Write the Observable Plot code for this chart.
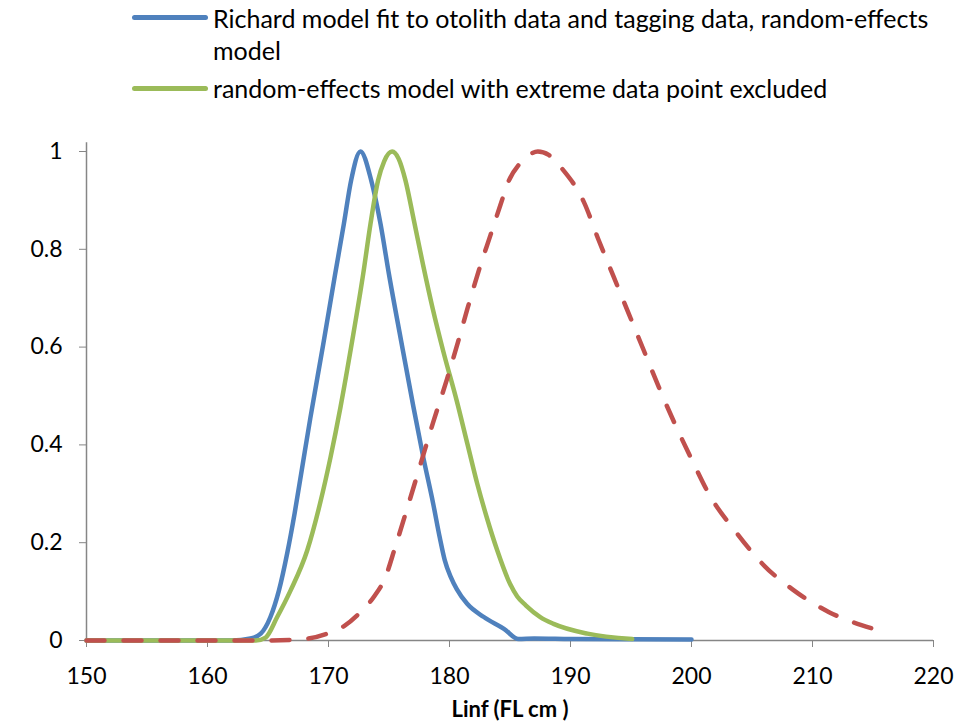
<!DOCTYPE html>
<html>
<head>
<meta charset="utf-8">
<script src="https://cdn.jsdelivr.net/npm/d3@7"></script>
<script src="https://cdn.jsdelivr.net/npm/@observablehq/plot@0.6"></script>
<style>
  body { margin: 0; background: #fff; }
  #wrap { position: relative; width: 971px; height: 725px; font-family: Lato, "Open Sans", sans-serif; color: #000; }
  #legend { position: relative; width: 971px; height: 110px; }
  .sw { position: absolute; left: 132px; width: 76px; height: 5px; border-radius: 3px; }
  .lt { position: absolute; left: 213px; font-size: 25px; line-height: 32px; white-space: nowrap; }
  #plot svg { display: block; }
</style>
</head>
<body>
<div id="wrap">
  <div id="legend"></div>
  <div id="plot"></div>
</div>
<script>
// ---- data ----
const seriesNames = [
  "Richard model fit to otolith data and tagging data, random-effects\nmodel",
  "random-effects model with extreme data point excluded"
];
const seriesColors = ["#4F81BD", "#9BBB59", "#C0504D"];

const blueX = [150, 160, 162, 163.55, 164.4, 165.2, 165.9, 166.6, 167.2, 167.8, 168.5, 169.56, 170.52, 171.27, 171.87, 172.64, 173.53, 174.3, 174.99, 176.0, 177.0, 177.83, 178.65, 179.2, 179.6, 180.1, 180.6, 181.46, 182.84, 184.5, 185.7, 187, 190, 200];
const blueY = [0, 0, 0, 0.004, 0.014, 0.048, 0.102, 0.18, 0.26, 0.35, 0.455, 0.605, 0.745, 0.852, 0.941, 1.0, 0.941, 0.852, 0.75, 0.613, 0.48, 0.375, 0.28, 0.21, 0.165, 0.13, 0.105, 0.075, 0.048, 0.024, 0.003, 0.004, 0.003, 0.002];

const greenX = [150, 164.0, 164.8, 165.76, 166.86, 168.24, 169.3, 170.17, 170.99, 171.96, 172.87, 173.47, 174.1, 174.6, 175.26, 175.8, 176.36, 177.05, 177.8, 178.6, 179.5, 180.6, 181.5, 182.3, 183.1, 183.95, 185.0, 185.6, 186.3, 187.5, 188.6, 191.4, 195.1];
const greenY = [0, 0, 0.006, 0.048, 0.102, 0.184, 0.28, 0.375, 0.477, 0.613, 0.75, 0.852, 0.941, 0.98, 1.0, 0.985, 0.941, 0.86, 0.77, 0.68, 0.59, 0.49, 0.4, 0.32, 0.25, 0.184, 0.116, 0.09, 0.072, 0.048, 0.034, 0.014, 0.003];

const redX = [150, 165, 168, 169.89, 171.26, 172.64, 173.74, 174.71, 175.5, 176.5, 177.6, 178.7, 179.8, 180.7, 181.5, 182.4, 183.4, 184.2, 184.9, 185.8, 186.7, 187.3, 188.2, 189.3, 191.1, 192.34, 193.58, 194.82, 196.06, 197.3, 198.68, 200.06, 201.43, 203.7, 205.93, 208.43, 211.37, 215];
const redY = [0, 0, 0.003, 0.014, 0.029, 0.058, 0.089, 0.13, 0.19, 0.27, 0.36, 0.45, 0.535, 0.61, 0.68, 0.755, 0.83, 0.89, 0.94, 0.975, 0.995, 1.0, 0.993, 0.965, 0.897, 0.818, 0.743, 0.668, 0.593, 0.518, 0.44, 0.368, 0.3, 0.221, 0.155, 0.103, 0.058, 0.024];

const xTicks = [150, 160, 170, 180, 190, 200, 210, 220];
const yTicks = [0, 0.2, 0.4, 0.6, 0.8, 1];
const xLabel = "Linf (FL cm )";

// ---- build tables ----
const toRows = (xs, ys) => xs.map((x, i) => ({x, y: ys[i]}));
const blue = toRows(blueX, blueY);
const green = toRows(greenX, greenY);
const red = toRows(redX, redY);

// ---- legend ----
const legend = document.getElementById("legend");
const swTops = [15, 86];
const txtTops = [2, 72];
seriesNames.forEach((name, i) => {
  const sw = document.createElement("div");
  sw.className = "sw";
  sw.style.top = swTops[i] + "px";
  sw.style.background = seriesColors[i];
  legend.appendChild(sw);
  const t = document.createElement("div");
  t.className = "lt";
  t.style.top = txtTops[i] + "px";
  t.innerHTML = name.split("\n").join("<br>");
  legend.appendChild(t);
});

// ---- plot ----
const axisColor = "#868686";
const chart = Plot.plot({
  width: 971,
  height: 615,
  marginTop: 41,
  marginBottom: 85,
  marginLeft: 86,
  marginRight: 38,
  style: {fontFamily: "Lato, 'Open Sans', sans-serif", fontSize: "23px", color: "#000", background: "#fff"},
  x: {domain: [150, 220]},
  y: {domain: [0, 1]},
  marks: [
    Plot.ruleX([150], {y1: 0, y2: 1.018, stroke: axisColor, strokeWidth: 1.5}),
    Plot.ruleY([0], {stroke: axisColor, strokeWidth: 1.5}),
    Plot.axisX({ticks: xTicks, tickSize: 7, tickPadding: 20, stroke: axisColor, fill: "#000", label: null, tickFormat: d => String(d)}),
    Plot.axisY({ticks: yTicks, tickSize: 7, tickPadding: 17, stroke: axisColor, fill: "#000", label: null, tickFormat: d => String(d)}),
    Plot.line(blue, {x: "x", y: "y", stroke: seriesColors[0], strokeWidth: 4.5, curve: "monotone-x"}),
    Plot.line(green, {x: "x", y: "y", stroke: seriesColors[1], strokeWidth: 4.5, curve: "monotone-x"}),
    Plot.line(red, {x: "x", y: "y", stroke: seriesColors[2], strokeWidth: 4.5, curve: "monotone-x", strokeDasharray: "18,19", strokeLinecap: "round"}),
    Plot.text([xLabel], {frameAnchor: "bottom", dy: 76, text: d => d, fontWeight: "bold", fontSize: 22, fill: "#000"})
  ]
});
document.getElementById("plot").appendChild(chart);
</script>
</body>
</html>
